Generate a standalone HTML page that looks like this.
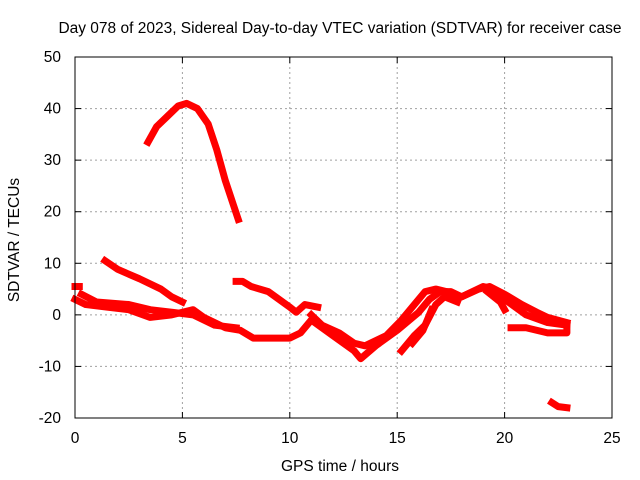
<!DOCTYPE html>
<html><head><meta charset="utf-8"><style>
body{margin:0;background:#fff}
svg{display:block;font-family:"Liberation Sans",sans-serif;font-size:15.5px}
</style></head><body>
<svg id="c" width="640" height="480"></svg>
<script>
const xTicks=[0,5,10,15,20,25];
const yTicks=[-20,-10,0,10,20,30,40,50];
const trackArc=[[3.4,33.5],[3.8,36.5],[4.3,38.5],[4.8,40.5],[5.2,41],[5.7,40],[6.2,37],[6.6,32],[7.0,26],[7.4,21],[7.6,18.5]];
const trackB=[[1.4,10.5],[2,8.8],[3,7],[4,5],[4.5,3.5],[5,2.5]];
const trackC=[[0,3],[0.5,2],[1.5,1.5],[2.5,1],[3.5,-0.5],[4.5,0],[5,0.5],[5.5,1],[6,-0.5],[7,-2.5],[7.7,-3],[8.3,-4.5],[9,-4.5],[10,-4.5],[10.5,-3.5],[11,-1],[11.5,-2.5],[12,-4],[13,-7],[13.3,-8.5],[14,-6],[15,-3],[16,0.5],[16.5,3],[17,4.5],[17.5,4.5],[18,3.5],[19,5.5],[19.5,5],[20,3],[21,0],[22,-1.5],[22.9,-2]];
const trackC2=[[0.3,4],[1,2.5],[2.5,2],[3.5,1],[4.5,0.5],[5.5,0],[6.5,-2],[7.5,-2.5]];
const trackD=[[7.5,6.5],[7.8,6.5],[8.2,5.5],[9,4.5],[9.5,3],[10,1.5],[10.3,0.5],[10.7,2],[11.3,1.5]];
const trackE=[[11,0],[11.5,-2],[12.3,-3.5],[13,-5.5],[13.5,-6],[14,-5],[14.5,-4],[15.2,-1],[15.8,2],[16.3,4.5],[16.8,5],[17.3,4.5],[18,3.5],[18.8,5],[19.3,5.5],[20,4],[20.8,2],[21.5,0.5],[22,-0.5],[22.9,-1.5]];
const trackF=[[15.2,-7],[15.8,-4],[16.3,-2],[16.8,2],[17.2,3.5],[17.8,2.5]];
const trackF2=[[15.7,-5.5],[16.2,-3],[16.6,1]];
const trackG=[[20.3,-2.5],[21,-2.5],[22,-3.5],[22.9,-3.5],[22.9,-2]];
const trackH=[[22.2,-17],[22.5,-17.8],[22.9,-18]];
const trackI=[[0,5.5],[0.2,5.5]];
const trackJ=[[19.2,4.5],[19.8,2.5],[20,1]];
const tracks=[trackArc,trackB,trackC,trackC2,trackD,trackE,trackF,trackF2,trackG,trackH,trackI,trackJ];

const L=75,R=612,T=57,B=418;
const X=h=>L+h*(R-L)/25;
const Y=v=>T+(50-v)*(B-T)/70;
const NS="http://www.w3.org/2000/svg";
const svg=document.getElementById('c');
function mk(tag,attrs,parent){const e=document.createElementNS(NS,tag);for(const k in attrs)e.setAttribute(k,attrs[k]);(parent||svg).appendChild(e);return e;}

xTicks.forEach(t=>{
  if(t>0&&t<25){const g=mk('line',{x1:X(t),x2:X(t),y1:T,y2:B,stroke:'#a0a0a0','stroke-dasharray':'2,3'});
  
  }
  const tx=mk('text',{x:X(t),y:B+25,'text-anchor':'middle',fill:'#000'});tx.textContent=t;
  
  
  mk('line',{x1:X(t),x2:X(t),y1:B,y2:B-6,stroke:'#000'});
  mk('line',{x1:X(t),x2:X(t),y1:T,y2:T+6,stroke:'#000'});
});
yTicks.forEach(t=>{
  if(t>-20&&t<50){const g=mk('line',{x1:L,x2:R,y1:Y(t),y2:Y(t),stroke:'#a0a0a0','stroke-dasharray':'2,3'});
  
  }
  const tx=mk('text',{x:L-14,y:Y(t)+5,'text-anchor':'end',fill:'#000'});tx.textContent=t;
  
  
  mk('line',{x1:L,x2:L+6,y1:Y(t),y2:Y(t),stroke:'#000'});
  mk('line',{x1:R,x2:R-6,y1:Y(t),y2:Y(t),stroke:'#000'});
});
tracks.forEach(tr=>{
  const p=mk('polyline',{points:tr.map(d=>X(d[0])+','+Y(d[1])).join(' '),fill:'none',stroke:'#ff0000','stroke-width':7,'stroke-linejoin':'round','stroke-linecap':'square'});
  
  
});
const fr=mk('rect',{x:L,y:T,width:R-L,height:B-T,fill:'none',stroke:'#000'});


const ti=mk('text',{x:340,y:33,'text-anchor':'middle',fill:'#000'});
ti.textContent='Day 078 of 2023, Sidereal Day-to-day VTEC variation (SDTVAR) for receiver case';


const xl=mk('text',{x:340,y:471,'text-anchor':'middle',fill:'#000'});
xl.textContent='GPS time / hours';


const yl=mk('text',{x:0,y:0,'text-anchor':'middle',fill:'#000',transform:'translate(19,240) rotate(-90)'});
yl.textContent='SDTVAR / TECUs';


</script>
</body></html>
